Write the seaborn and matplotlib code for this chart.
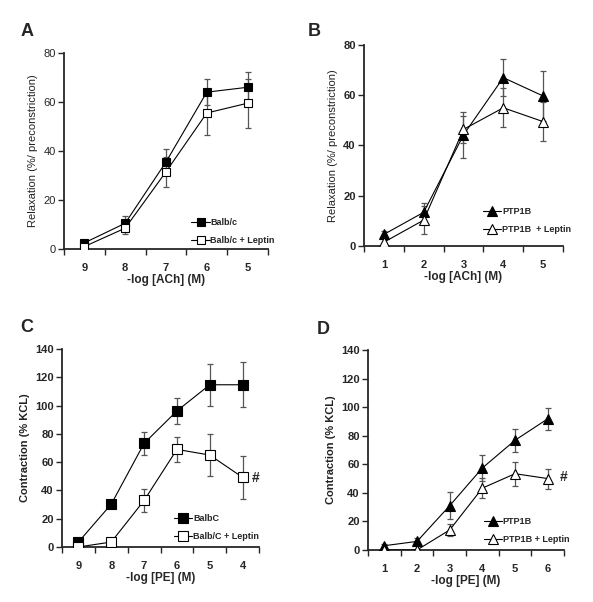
import numpy as np
import pandas as pd
import matplotlib
matplotlib.use("Agg")
import matplotlib.pyplot as plt
import seaborn as sns

# panel A: relaxation to ACh, Balb/c
a_doses = ['9', '8', '7', '6', '5']
a_balb = [2.5, 10.5, 35.5, 64, 66]
a_balb_err = [1, 3, 5.5, 5.3, 6.4]
a_balb_lep = [1, 8.5, 31.5, 55.5, 59.5]
a_balb_lep_err = [1, 2.5, 6, 9, 10]

# panel B: relaxation to ACh, PTP1B
b_doses = ['1', '2', '3', '4', '5']
b_ptp = [4.6, 13.4, 44.2, 67, 59.7]
b_ptp_err = [1.5, 3.8, 9, 7.3, 10]
b_ptp_lep = [1.5, 10.3, 46.4, 55, 49.5]
b_ptp_lep_err = [1.5, 5.7, 5.5, 7.7, 7.7]

# panel C: contraction to PE, BalbC
c_doses = ['9', '8', '7', '6', '5', '4']
c_balb = [3.5, 30.3, 73.3, 96.2, 114.7, 114.7]
c_balb_err = [1, 1, 8, 9, 15, 16]
c_balb_lep = [0, 3.5, 32.9, 69, 65, 49.2]
c_balb_lep_err = [0, 0.5, 8, 9, 15, 15.4]

# panel D: contraction to PE, PTP1B
d_doses = ['1', '2', '3', '4', '5', '6']
d_ptp = [3, 6, 31, 57.4, 76.8, 91.8]
d_ptp_err = [1, 2.5, 9.5, 9.3, 8, 7.5]
d_ptp_lep = [0, 0, 14, 43.3, 53.4, 50]
d_ptp_lep_err = [0, 0, 4.5, 7, 8.3, 7]

sns.set_style("ticks")
plt.rcParams['font.family'] = ['Liberation Sans', 'DejaVu Sans']

fig = plt.figure(figsize=(5.93, 6.02), dpi=100)


def draw_panel(rect, doses, series, ymax, ystep, ylabel, ylabel_bold, ytick_bold,
               xlabel, letter, letter_pos, leg_anchor, marker, msize, hash_pos=None):
    ax = fig.add_axes(rect)
    pos = np.arange(len(doses))
    for name, vals, errs, filled in series:
        ax.errorbar(pos, vals, yerr=errs, fmt='none', ecolor='#555555',
                    elinewidth=0.9, capsize=2.4, capthick=0.9, zorder=2)
        df = pd.DataFrame({'pos': pos, 'val': vals})
        sns.lineplot(data=df, x='pos', y='val', ax=ax, color='black', lw=0.8,
                     marker=marker, markersize=msize, markeredgecolor='black',
                     markeredgewidth=0.8,
                     markerfacecolor='black' if filled else 'white',
                     label=name, zorder=3)
    ax.set_xlim(-0.5, len(doses) - 0.5)
    ax.set_ylim(0, ymax)
    ax.set_yticks(np.arange(0, ymax + 1, ystep))
    ax.set_xticks(pos)
    ax.set_xticklabels(doses, fontsize=8, fontweight='bold')
    ax.set_xticks(np.arange(-0.5, len(doses), 1), minor=True)
    ax.tick_params(axis='x', which='major', length=0, pad=10)
    ax.tick_params(axis='x', which='minor', length=4, width=1, direction='out')
    ax.tick_params(axis='y', length=4, width=1, direction='out', pad=2)
    for t in ax.get_yticklabels():
        t.set_fontsize(8)
        t.set_fontweight('bold' if ytick_bold else 'normal')
    ax.set_xlabel(xlabel, fontsize=8.5, fontweight='bold', labelpad=1)
    ax.set_ylabel(ylabel, fontsize=8, fontweight='bold' if ylabel_bold else 'normal',
                  labelpad=4, color='#222222')
    sns.despine(ax=ax)
    for s in ('left', 'bottom'):
        ax.spines[s].set_linewidth(1.3)
    ax.legend(loc='lower left', bbox_to_anchor=leg_anchor, frameon=False,
              handlelength=2.0, handletextpad=0.1, labelspacing=1.0,
              borderpad=0, borderaxespad=0,
              prop={'size': 6.5, 'weight': 'bold'})
    fig.text(letter_pos[0] / 593, 1 - letter_pos[1] / 602, letter, fontsize=13,
             fontweight='bold', ha='center', va='center')
    if hash_pos is not None:
        ax.text(hash_pos[0], hash_pos[1], '#', fontsize=10, fontweight='bold',
                ha='center', va='center')
    return ax


draw_panel([0.1079, 0.5864, 0.344, 0.3256], a_doses,
           [('Balb/c', a_balb, a_balb_err, True),
            ('Balb/c + Leptin', a_balb_lep, a_balb_lep_err, False)],
           80, 20, 'Relaxation (%/ preconstriction)', False, False,
           '-log [ACh] (M)', 'A', (27, 31), (0.625, 0.02), 's', 6)

draw_panel([0.6138, 0.5914, 0.3356, 0.3339], b_doses,
           [('PTP1B', b_ptp, b_ptp_err, True),
            ('PTP1B  + Leptin', b_ptp_lep, b_ptp_lep_err, False)],
           80, 20, 'Relaxation (%/ preconstriction)', False, True,
           '-log [ACh] (M)', 'B', (314, 31), (0.6, 0.06), '^', 6.5)

draw_panel([0.1046, 0.0914, 0.3322, 0.3289], c_doses,
           [('BalbC', c_balb, c_balb_err, True),
            ('Balb/C + Leptin', c_balb_lep, c_balb_lep_err, False)],
           140, 20, 'Contraction (% KCL)', True, True,
           '-log [PE] (M)', 'C', (27, 328), (0.57, 0.03), 's', 6.5,
           hash_pos=(5.4, 49))

draw_panel([0.6206, 0.0864, 0.3305, 0.3322], d_doses,
           [('PTP1B', d_ptp, d_ptp_err, True),
            ('PTP1B + Leptin', d_ptp_lep, d_ptp_lep_err, False)],
           140, 20, 'Contraction (% KCL)', True, True,
           '-log [PE] (M)', 'D', (323, 330), (0.59, 0.03), '^', 6.5,
           hash_pos=(5.5, 51))

fig.savefig('out.png', dpi=100)
